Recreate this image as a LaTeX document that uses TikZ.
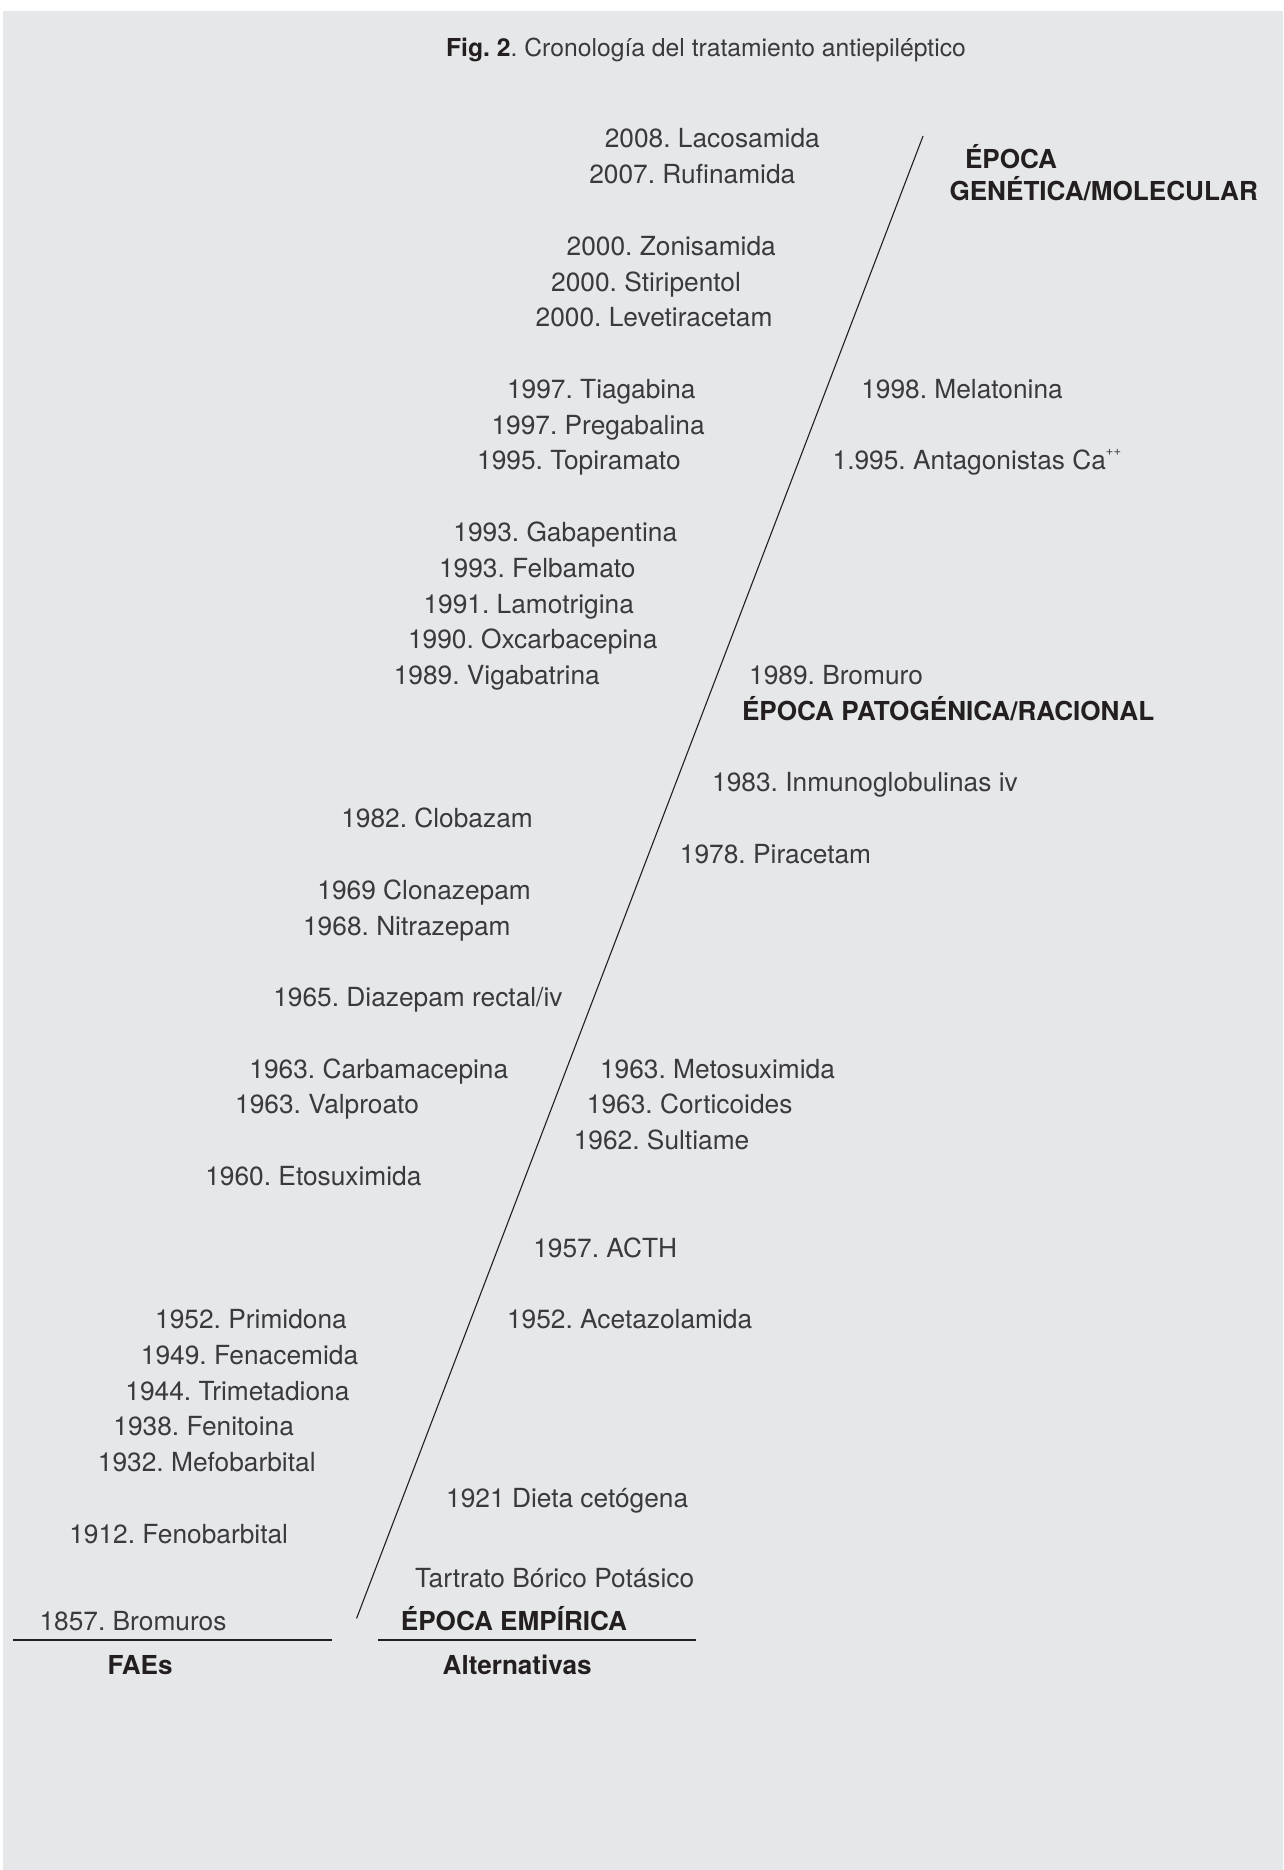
\documentclass[tikz,border=0pt]{standalone}
\usepackage{fontspec}
\setmainfont{TeX Gyre Heros}
\frenchspacing
\definecolor{bg}{HTML}{E6E7E9}
\definecolor{txt}{HTML}{3A3A3C}
\definecolor{txtb}{HTML}{231F20}
\tikzset{
  lbl/.style={anchor=base west,inner sep=0pt,text=txt,font=\fontsize{26.3}{30}\selectfont\frenchspacing},
  lblb/.style={anchor=base west,inner sep=0pt,text=txtb,font=\fontsize{26.1}{30}\selectfont\bfseries\frenchspacing},
  axis/.style={draw=txtb,line width=1.1pt},
  rule/.style={draw=txtb,line width=1.6pt}
}
\begin{document}
\begin{tikzpicture}[x=1.1924pt,y=-1.1924pt]
\useasboundingbox (0,0) rectangle (1076,1568);
\fill[white] (0,0) rectangle (1076,1568);
\fill[bg] (2.5,9) rectangle (1076,1568);
% title
\node[anchor=base,inner sep=0pt,text=txt,font=\fontsize{24.7}{28}\selectfont\frenchspacing] (title) at (592,47) {\textbf{\color{txtb}Fig. 2}. Cronología del tratamiento antiepiléptico};
% axis
\coordinate (top) at (774,114);
\coordinate (bot) at (299,1357);
\draw[axis] (bot) -- (top);
% left column
\node[lbl] (l01) at (507,124) {2008. Lacosamida};
\node[lbl] (l02) at (494,154) {2007. Rufinamida};
\node[lbl] (l03) at (475,214) {2000. Zonisamida};
\node[lbl] (l04) at (462,244) {2000. Stiripentol};
\node[lbl] (l05) at (449,274) {2000. Levetiracetam};
\node[lbl] (l06) at (425,334) {1997. Tiagabina};
\node[lbl] (l07) at (412,364) {1997. Pregabalina};
\node[lbl] (l08) at (400,394) {1995. Topiramato};
\node[lbl] (l09) at (380,454) {1993. Gabapentina};
\node[lbl] (l10) at (368,484) {1993. Felbamato};
\node[lbl] (l11) at (355,514) {1991. Lamotrigina};
\node[lbl] (l12) at (342,544) {1990. Oxcarbacepina};
\node[lbl] (l13) at (330,574) {1989. Vigabatrina};
\node[lbl] (l14) at (286,694) {1982. Clobazam};
\node[lbl] (l15) at (266,754) {1969 Clonazepam};
\node[lbl] (l16) at (254,784) {1968. Nitrazepam};
\node[lbl] (l17) at (229,844) {1965. Diazepam rectal/iv};
\node[lbl] (l18) at (209,904) {1963. Carbamacepina};
\node[lbl] (l19) at (197,934) {1963. Valproato};
\node[lbl] (l20) at (172,994) {1960. Etosuximida};
\node[lbl] (l21) at (130,1114) {1952. Primidona};
\node[lbl] (l22) at (118,1144) {1949. Fenacemida};
\node[lbl] (l23) at (105,1174) {1944. Trimetadiona};
\node[lbl] (l24) at (95,1204) {1938. Fenitoina};
\node[lbl] (l25) at (82,1234) {1932. Mefobarbital};
\node[lbl] (l26) at (58,1294) {1912. Fenobarbital};
\node[lbl] (l27) at (33,1367) {1857. Bromuros};
% right column
\node[lblb] (e1a) at (809,141) {ÉPOCA};
\node[lblb] (e1b) at (796,168) {GENÉTICA/MOLECULAR};
\node[lbl] (r01) at (722,334) {1998. Melatonina};
\node[lbl] (r02) at (698,394) {1.995. Antagonistas Ca\raisebox{0.55em}{\fontsize{13}{14}\selectfont ++}};
\node[lbl] (r03) at (628,574) {1989. Bromuro};
\node[lblb] (e2) at (622,604) {ÉPOCA PATOGÉNICA/RACIONAL};
\node[lbl] (r04) at (597,664) {1983. Inmunoglobulinas iv};
\node[lbl] (r05) at (570,724) {1978. Piracetam};
\node[lbl] (r06) at (503,904) {1963. Metosuximida};
\node[lbl] (r07) at (492,934) {1963. Corticoides};
\node[lbl] (r08) at (481,964) {1962. Sultiame};
\node[lbl] (r09) at (447,1054) {1957. ACTH};
\node[lbl] (r10) at (425,1114) {1952. Acetazolamida};
\node[lbl] (r11) at (374,1264) {1921 Dieta cetógena};
\node[lbl] (r12) at (348,1331) {Tartrato Bórico Potásico};
\node[lblb] (e3) at (336,1367) {ÉPOCA EMPÍRICA};
% baselines
\coordinate (ra) at (11,1375);
\coordinate (rb) at (278,1375);
\coordinate (rc) at (317,1375);
\coordinate (rd) at (584,1375);
\draw[rule] (ra) -- (rb);
\draw[rule] (rc) -- (rd);
\node[lblb] (faes) at (90,1404) {FAEs};
\node[lblb] (alt) at (371,1404) {Alternativas};
\end{tikzpicture}
\end{document}
